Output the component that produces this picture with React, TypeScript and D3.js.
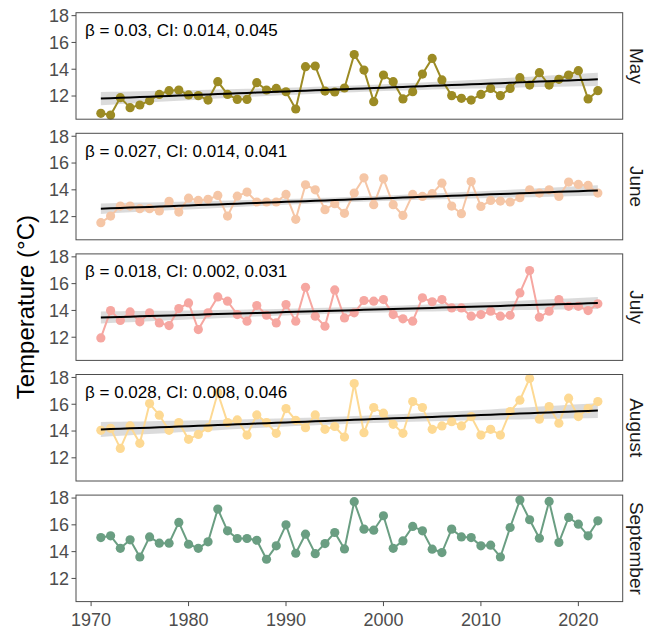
import React from 'react'
import * as d3 from 'd3'

// monthly mean temperatures, 1971-2022
const firstYear = 1971
const lastYear = 2022

const months = ['May', 'June', 'July', 'August', 'September']

const may = [10.71, 10.58, 11.88, 11.13, 11.33, 11.65, 12.12, 12.4, 12.45, 12.08, 12.03, 11.7, 13.07, 12.12, 11.75, 11.75, 13.0, 12.45, 12.57, 12.32, 11.03, 14.19, 14.24, 12.37, 12.3, 12.6, 15.1, 13.94, 11.58, 13.57, 13.07, 11.78, 12.32, 13.64, 14.81, 13.2, 12.03, 11.83, 11.7, 12.12, 12.57, 12.03, 12.57, 13.37, 12.82, 13.74, 12.82, 13.25, 13.57, 13.89, 11.78, 12.4]
const june = [11.55, 12.04, 12.79, 12.79, 12.59, 12.59, 12.42, 13.14, 12.34, 13.38, 13.21, 13.29, 13.58, 12.04, 13.53, 13.83, 13.09, 13.09, 13.09, 13.66, 11.8, 14.38, 14.0, 12.52, 12.96, 12.25, 13.76, 14.9, 12.89, 14.82, 12.89, 12.09, 13.66, 13.51, 13.71, 14.5, 12.79, 12.22, 14.62, 12.76, 13.21, 13.16, 13.09, 13.41, 14.0, 13.76, 14.0, 13.51, 14.58, 14.4, 14.33, 13.76]
const july = [11.95, 13.99, 13.25, 13.89, 13.15, 13.82, 13.07, 12.87, 14.14, 14.56, 12.57, 13.82, 15.01, 14.69, 13.69, 13.2, 14.37, 13.64, 13.07, 14.44, 13.2, 15.73, 13.57, 12.82, 15.53, 13.44, 13.82, 14.74, 14.69, 14.81, 13.69, 13.37, 13.2, 14.94, 14.64, 14.81, 14.19, 14.19, 13.57, 13.69, 13.94, 13.57, 13.64, 15.31, 16.98, 13.49, 13.94, 14.81, 14.31, 14.31, 13.99, 14.49]
const august = [14.05, 14.2, 12.7, 14.38, 13.08, 16.05, 15.18, 14.05, 14.63, 13.38, 13.75, 14.25, 16.85, 14.63, 14.83, 13.7, 15.2, 14.63, 13.83, 15.68, 14.8, 14.25, 15.2, 14.13, 14.34, 13.55, 17.55, 13.88, 15.75, 15.33, 14.5, 13.83, 16.2, 15.75, 14.13, 14.38, 14.7, 14.38, 15.08, 13.7, 14.13, 13.7, 15.45, 16.3, 17.93, 14.88, 15.83, 14.58, 16.45, 15.08, 15.68, 16.2]
const september = [15.05, 15.18, 14.25, 14.88, 13.6, 15.1, 14.63, 14.63, 16.18, 14.55, 14.25, 14.73, 17.18, 15.55, 14.98, 14.98, 14.85, 13.43, 14.43, 16.0, 13.88, 15.3, 13.85, 14.6, 15.43, 14.2, 17.73, 15.68, 15.6, 16.68, 14.25, 14.8, 15.88, 15.55, 14.18, 13.93, 15.68, 15.1, 15.05, 14.43, 14.48, 13.6, 15.8, 17.85, 16.38, 15.0, 17.75, 14.68, 16.55, 16.05, 15.18, 16.3]

const series = [may, june, july, august, september]
const colors = ['#9c8b24', '#f5c6a6', '#f6a7a1', '#fdd993', '#6a9e82']
const showTrend = [true, true, true, true, false]
const labels = [
  'β = 0.03, CI: 0.014, 0.045',
  'β = 0.027, CI: 0.014, 0.041',
  'β = 0.018, CI: 0.002, 0.031',
  'β = 0.028, CI: 0.008, 0.046',
  '',
]

const yTicks = [12, 14, 16, 18]
const xTicks = [1970, 1980, 1990, 2000, 2010, 2020]

const W = 648
const H = 635
const left = 76
const right = 622.7
const top0 = 12.7
const step = 120.6
const panelH = 106.5
const font = 'Liberation Sans, Arial, Helvetica, sans-serif'

// ordinary least squares with 95% confidence band of the mean
function fitLm(xs: number[], ys: number[]) {
  const n = xs.length
  const mx = d3.mean(xs) as number
  const my = d3.mean(ys) as number
  let sxx = 0
  let sxy = 0
  xs.forEach((x, i) => {
    sxx += (x - mx) * (x - mx)
    sxy += (x - mx) * (ys[i] - my)
  })
  const b = sxy / sxx
  const a = my - b * mx
  let sse = 0
  xs.forEach((x, i) => {
    const r = ys[i] - (a + b * x)
    sse += r * r
  })
  const s = Math.sqrt(sse / (n - 2))
  const t = 2.009
  return xs.map((x) => {
    const fit = a + b * x
    const se = s * Math.sqrt(1 / n + ((x - mx) * (x - mx)) / sxx)
    return { x, fit, lo: fit - t * se, hi: fit + t * se }
  })
}

export default function App() {
  const years = d3.range(firstYear, lastYear + 1)

  const x = d3
    .scaleLinear()
    .domain([firstYear - 0.05 * (lastYear - firstYear), lastYear + 0.05 * (lastYear - firstYear)])
    .range([left, right])

  const y = d3.scaleLinear().domain([10.27, 18.22]).range([panelH, 0])

  const line = d3
    .line<number>()
    .x((d, i) => x(years[i]))
    .y((d) => y(d))

  const band = d3
    .area<{ x: number; lo: number; hi: number }>()
    .x((d) => x(d.x))
    .y0((d) => y(d.lo))
    .y1((d) => y(d.hi))

  const trend = d3
    .line<{ x: number; fit: number }>()
    .x((d) => x(d.x))
    .y((d) => y(d.fit))

  return (
    <svg width={W} height={H} style={{ position: 'absolute', left: 0, top: 0 }} fontFamily={font}>
      <rect width={W} height={H} fill="#fff" />
      {series.map((vals, k) => {
        const fit = fitLm(years, vals)
        const ty = top0 + k * step
        return (
          <g key={months[k]} transform={`translate(0,${ty})`}>
            {showTrend[k] && <path d={band(fit) || ''} fill="#bdbdbd" fillOpacity={0.55} />}
            <path d={line(vals) || ''} fill="none" stroke={colors[k]} strokeWidth={2} />
            {vals.map((v, i) => (
              <circle key={i} cx={x(years[i])} cy={y(v)} r={4.6} fill={colors[k]} />
            ))}
            {showTrend[k] && <path d={trend(fit) || ''} fill="none" stroke="#000" strokeWidth={2} />}
            <rect x={left} y={0} width={right - left} height={panelH} fill="none" stroke="#4d4d4d" strokeWidth={1} />
            {yTicks.map((t) => (
              <g key={t} transform={`translate(${left},${y(t)})`}>
                <line x1={-4.5} x2={0} stroke="#4d4d4d" strokeWidth={1} />
                <text x={-7} dy="0.35em" textAnchor="end" fontSize={18} fill="#4d4d4d">
                  {t}
                </text>
              </g>
            ))}
            {labels[k] && (
              <text x={left + 9} y={23.5} fontSize={17} fill="#000">
                {labels[k]}
              </text>
            )}
            <text
              transform={`translate(${right + 13.5},${panelH / 2}) rotate(90)`}
              textAnchor="middle"
              dy="0.32em"
              fontSize={19}
              fill="#1a1a1a"
            >
              {months[k]}
            </text>
          </g>
        )
      })}
      <g transform={`translate(0,${top0 + 4 * step + panelH})`}>
        {xTicks.map((t) => (
          <g key={t} transform={`translate(${x(t)},0)`}>
            <line y1={0} y2={4.5} stroke="#4d4d4d" strokeWidth={1} />
            <text y={24} textAnchor="middle" fontSize={18} fill="#4d4d4d">
              {t}
            </text>
          </g>
        ))}
      </g>
      <text
        transform={`translate(26,${top0 + (4 * step + panelH) / 2}) rotate(-90)`}
        textAnchor="middle"
        dy="0.35em"
        fontSize={24}
        fill="#000"
      >
        Temperature (°C)
      </text>
    </svg>
  )
}
